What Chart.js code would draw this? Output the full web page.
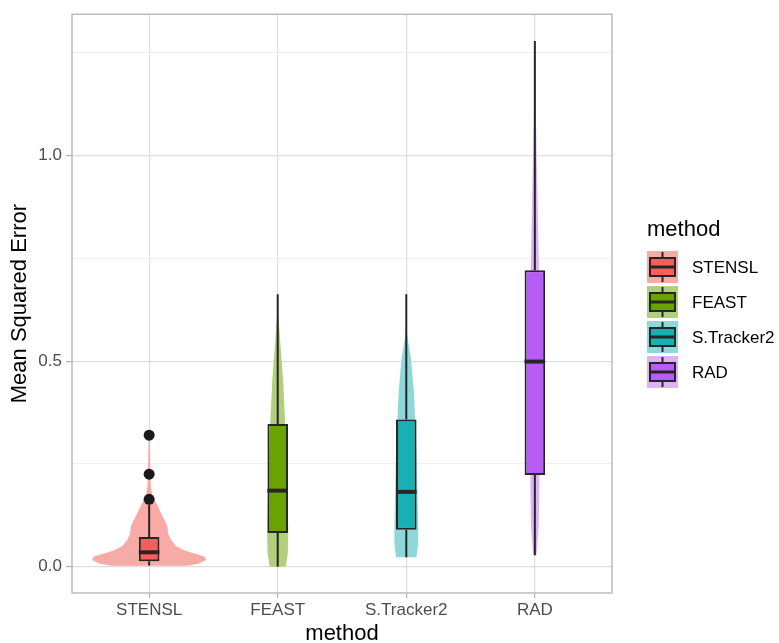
<!DOCTYPE html>
<html>
<head>
<meta charset="utf-8">
<script src="https://cdn.jsdelivr.net/npm/chart.js@4.4.1/dist/chart.umd.min.js"></script>
<style>
  html, body { margin: 0; padding: 0; background: #fff; }
  #wrap { width: 779px; height: 643px; }
</style>
</head>
<body>
<div id="wrap"><canvas id="chart" width="779" height="643"></canvas></div>
<script>
// 박스플롯 값
const methods = ['STENSL', 'FEAST', 'S.Tracker2', 'RAD'];
const lowerWhisker = [0.003, 0.0, 0.023, 0.028];
const q1 = [0.013, 0.082, 0.090, 0.223];
const medians = [0.035, 0.185, 0.182, 0.499];
const q3 = [0.072, 0.347, 0.358, 0.721];
const upperWhisker = [0.15, 0.663, 0.663, 1.279];

// 이상치
const outlierMethod = ['STENSL', 'STENSL', 'STENSL'];
const outlierValues = [0.164, 0.225, 0.320];

// 바이올린 윤곽: 값 단계와 반폭 (카테고리 단위)
const stenslLevels = [0.002, 0.008, 0.016, 0.024, 0.032, 0.040, 0.050, 0.065, 0.080, 0.100, 0.115, 0.130, 0.145, 0.160, 0.175, 0.20, 0.25, 0.32];
const stenslWidths = [0.295, 0.389, 0.443, 0.435, 0.35, 0.272, 0.21, 0.171, 0.148, 0.14, 0.117, 0.093, 0.07, 0.047, 0.023, 0.012, 0.008, 0.004];
const feastLevels = [0.0, 0.03, 0.08, 0.15, 0.25, 0.35, 0.40, 0.45, 0.50, 0.55, 0.60, 0.63];
const feastWidths = [0.062, 0.078, 0.082, 0.078, 0.07, 0.058, 0.05, 0.043, 0.031, 0.019, 0.008, 0.0];
const trackerLevels = [0.023, 0.035, 0.06, 0.09, 0.15, 0.25, 0.33, 0.38, 0.43, 0.47, 0.51, 0.54, 0.57];
const trackerWidths = [0.078, 0.085, 0.093, 0.093, 0.089, 0.082, 0.074, 0.066, 0.058, 0.047, 0.035, 0.019, 0.004];
const radLevels = [0.028, 0.05, 0.1, 0.2, 0.3, 0.5, 0.7, 0.8, 0.9, 1.0, 1.1, 1.2, 1.279];
const radWidths = [0.012, 0.019, 0.03, 0.035, 0.037, 0.037, 0.033, 0.027, 0.021, 0.014, 0.008, 0.004, 0.002];

// 축 눈금
const yTickValues = [0, 0.5, 1.0];
const yTickLabels = ['0.0', '0.5', '1.0'];
const yMinorValues = [0.25, 0.75, 1.25];

const violins = [
    { levels: stenslLevels, widths: stenslWidths },
    { levels: feastLevels, widths: feastWidths },
    { levels: trackerLevels, widths: trackerWidths },
    { levels: radLevels, widths: radWidths }
];

const boxColors = ['#F25F5C', '#68A300', '#18B1B3', '#B75CF7'];
const violinColors = ['#F7AAA6', '#B1CF7D', '#8ED8DA', '#DDB3F8'];
const lineColor = '#262626';
const fontFamily = '"Liberation Sans", Arial, sans-serif';

Chart.defaults.font.family = fontFamily;

// 바이올린, 수염, 중앙값, 테두리, 범례
const violinPlugin = {
    id: 'violins',
    beforeDatasetsDraw(chart) {
        const { ctx, chartArea } = chart;
        const x = chart.scales.x;
        const y = chart.scales.y;
        ctx.save();
        ctx.beginPath();
        ctx.rect(chartArea.left, chartArea.top, chartArea.width, chartArea.height);
        ctx.clip();

        violins.forEach((v, i) => {
            const c = i + 1;
            ctx.beginPath();
            v.levels.forEach((lv, k) => {
                const px = x.getPixelForValue(c + v.widths[k]);
                const py = y.getPixelForValue(lv);
                if (k === 0) ctx.moveTo(px, py); else ctx.lineTo(px, py);
            });
            for (let k = v.levels.length - 1; k >= 0; k--) {
                ctx.lineTo(x.getPixelForValue(c - v.widths[k]), y.getPixelForValue(v.levels[k]));
            }
            ctx.closePath();
            ctx.fillStyle = violinColors[i];
            ctx.fill();
        });

        ctx.strokeStyle = lineColor;
        ctx.lineWidth = 2;
        methods.forEach((m, i) => {
            const px = x.getPixelForValue(i + 1);
            ctx.beginPath();
            ctx.moveTo(px, y.getPixelForValue(upperWhisker[i]));
            ctx.lineTo(px, y.getPixelForValue(q3[i]));
            ctx.moveTo(px, y.getPixelForValue(q1[i]));
            ctx.lineTo(px, y.getPixelForValue(lowerWhisker[i]));
            ctx.stroke();
        });
        ctx.restore();
    },
    afterDatasetsDraw(chart) {
        const { ctx } = chart;
        const y = chart.scales.y;
        const meta = chart.getDatasetMeta(0);
        ctx.save();
        ctx.strokeStyle = lineColor;
        ctx.lineWidth = 4;
        meta.data.forEach((bar, i) => {
            const half = bar.width / 2;
            const py = y.getPixelForValue(medians[i]);
            ctx.beginPath();
            ctx.moveTo(bar.x - half, py);
            ctx.lineTo(bar.x + half, py);
            ctx.stroke();
        });
        ctx.restore();
    },
    afterDraw(chart) {
        const { ctx, chartArea } = chart;
        ctx.save();
        // 패널 테두리
        ctx.strokeStyle = '#B3B3B3';
        ctx.lineWidth = 1.3;
        ctx.strokeRect(chartArea.left, chartArea.top, chartArea.width, chartArea.height);

        // 범례
        const keyX = 647, keyTop = 251, keyW = 31, keyH = 32, rowStep = 35;
        ctx.fillStyle = '#000';
        ctx.font = '22px ' + fontFamily;
        ctx.textAlign = 'left';
        ctx.textBaseline = 'alphabetic';
        ctx.fillText('method', keyX, 236);

        methods.forEach((m, i) => {
            const top = keyTop + i * rowStep;
            const cx = keyX + keyW / 2;
            ctx.fillStyle = violinColors[i];
            ctx.fillRect(keyX, top, keyW, keyH);

            ctx.strokeStyle = lineColor;
            ctx.lineWidth = 2;
            ctx.beginPath();
            ctx.moveTo(cx, top + 1);
            ctx.lineTo(cx, top + keyH - 1);
            ctx.stroke();

            ctx.fillStyle = boxColors[i];
            ctx.fillRect(keyX + 3, top + 7, keyW - 6, keyH - 14);
            ctx.strokeRect(keyX + 3, top + 7, keyW - 6, keyH - 14);

            ctx.lineWidth = 3;
            ctx.beginPath();
            ctx.moveTo(keyX + 3, top + keyH / 2);
            ctx.lineTo(keyX + keyW - 3, top + keyH / 2);
            ctx.stroke();

            ctx.fillStyle = '#000';
            ctx.font = '17px ' + fontFamily;
            ctx.textBaseline = 'middle';
            ctx.fillText(m, 692, top + keyH / 2 + 1);
        });
        ctx.restore();
    }
};

const isMinor = v => yMinorValues.indexOf(v) >= 0;

new Chart(document.getElementById('chart'), {
    type: 'bar',
    data: {
        datasets: [
            {
                type: 'bar',
                data: methods.map((m, i) => ({ x: i + 1, y: [q1[i], q3[i]] })),
                backgroundColor: boxColors,
                borderColor: lineColor,
                borderWidth: 2,
                borderSkipped: false,
                barPercentage: 0.16,
                categoryPercentage: 1,
                order: 1
            },
            {
                type: 'scatter',
                data: outlierValues.map((v, k) => ({ x: methods.indexOf(outlierMethod[k]) + 1, y: v })),
                pointRadius: 5.5,
                backgroundColor: '#1A1A1A',
                borderWidth: 0,
                order: 0
            }
        ]
    },
    options: {
        responsive: false,
        animation: false,
        layout: { padding: { left: 0, right: 167, top: 14, bottom: 0 } },
        plugins: {
            legend: { display: false },
            tooltip: { enabled: false }
        },
        scales: {
            x: {
                type: 'linear',
                min: 0.4,
                max: 4.6,
                offset: false,
                afterBuildTicks: s => { s.ticks = methods.map((m, i) => ({ value: i + 1 })); },
                afterFit: s => { s.height = 50; },
                ticks: {
                    callback: v => methods[v - 1],
                    font: { size: 17 },
                    color: '#4D4D4D',
                    padding: 2,
                    autoSkip: false,
                    maxRotation: 0
                },
                grid: { offset: false, color: '#DEDEDE', lineWidth: 1.2, tickLength: 5, tickColor: '#B3B3B3', tickWidth: 1.2 },
                border: { display: false },
                title: {
                    display: true,
                    text: 'method',
                    color: '#000',
                    font: { size: 22, lineHeight: 0.8 },
                    padding: { top: 0, bottom: 0 }
                }
            },
            y: {
                min: -0.064,
                max: 1.344,
                afterBuildTicks: s => {
                    s.ticks = yTickValues.concat(yMinorValues).sort((a, b) => a - b).map(v => ({ value: v }));
                },
                afterFit: s => { s.width = 72; },
                ticks: {
                    callback: v => {
                        const k = yTickValues.indexOf(v);
                        return k >= 0 ? yTickLabels[k] : '';
                    },
                    font: { size: 17 },
                    color: '#4D4D4D',
                    padding: 4
                },
                grid: {
                    color: c => (c.tick && isMinor(c.tick.value)) ? '#EFEFEF' : '#DEDEDE',
                    lineWidth: c => (c.tick && isMinor(c.tick.value)) ? 1 : 1.2,
                    tickColor: c => (c.tick && isMinor(c.tick.value)) ? 'rgba(0,0,0,0)' : '#B3B3B3',
                    tickLength: 6,
                    tickWidth: 1.2
                },
                border: { display: false },
                title: {
                    display: true,
                    text: 'Mean Squared Error',
                    color: '#000',
                    font: { size: 22, lineHeight: 1 },
                    padding: { top: 9, bottom: 0 }
                }
            }
        }
    },
    plugins: [violinPlugin]
});
</script>
</body>
</html>
